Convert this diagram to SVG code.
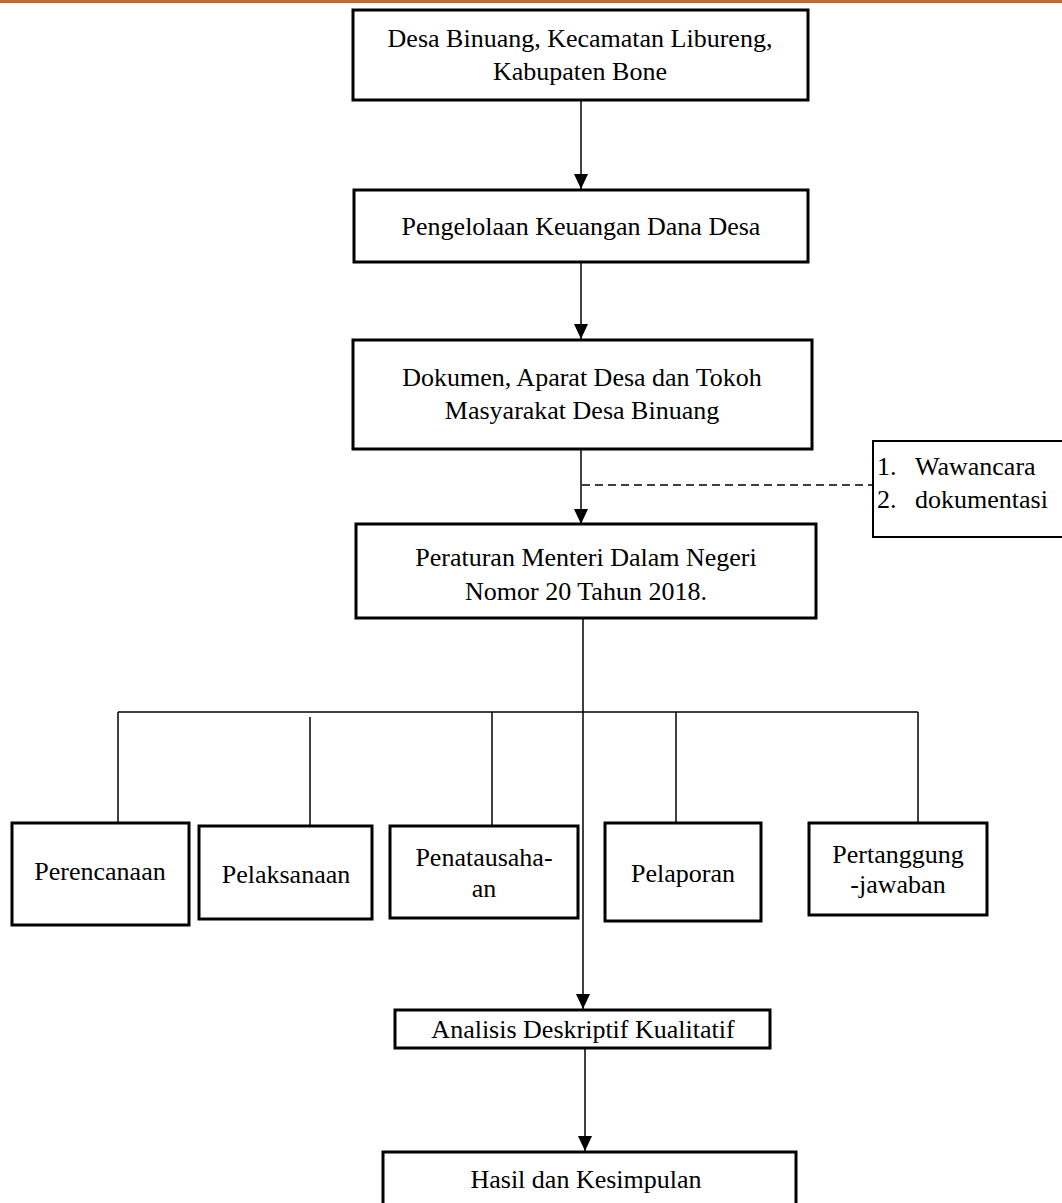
<svg xmlns="http://www.w3.org/2000/svg" width="1062" height="1203" viewBox="0 0 1062 1203">
<style>
.box{fill:#fff;stroke:#000;stroke-width:3}
.sbox{fill:#fff;stroke:#000;stroke-width:2}
.ln{fill:none;stroke:#000;stroke-width:1.5}
.dash{fill:none;stroke:#000;stroke-width:1.5;stroke-dasharray:8 5}
text{font-family:"Liberation Serif","Times New Roman",serif;font-size:26px;fill:#000}
.c{text-anchor:middle}
</style>
<defs>
<marker id="ah" markerWidth="16" markerHeight="14" refX="15" refY="7" orient="auto" markerUnits="userSpaceOnUse">
<path d="M0,0 L15,7 L0,14 Z" fill="#000"/>
</marker>
</defs>
<rect x="0" y="0" width="1062" height="1203" fill="#fff"/>
<rect x="0" y="0" width="1062" height="3" fill="#C4662F"/>
<g id="connectors">
<line class="ln" x1="581" y1="100" x2="581" y2="189" marker-end="url(#ah)"/>
<line class="ln" x1="581" y1="262" x2="581" y2="339" marker-end="url(#ah)"/>
<line class="ln" x1="581" y1="449" x2="581" y2="524" marker-end="url(#ah)"/>
<line class="dash" x1="582" y1="485" x2="873" y2="485"/>
<line class="ln" x1="583" y1="618" x2="583" y2="1009" marker-end="url(#ah)"/>
<line class="ln" x1="118" y1="712" x2="918" y2="712"/>
<line class="ln" x1="118" y1="712" x2="118" y2="823"/>
<line class="ln" x1="310" y1="717" x2="310" y2="826"/>
<line class="ln" x1="492" y1="712" x2="492" y2="826"/>
<line class="ln" x1="676" y1="712" x2="676" y2="823"/>
<line class="ln" x1="918" y1="712" x2="918" y2="823"/>
<line class="ln" x1="585" y1="1048" x2="585" y2="1151" marker-end="url(#ah)"/>
</g>
<g id="n1"><rect class="box" x="353" y="10" width="455" height="90"/>
<text class="c" x="580" y="47">Desa Binuang, Kecamatan Libureng,</text>
<text class="c" x="580" y="80">Kabupaten Bone</text></g>
<g id="n2"><rect class="box" x="354" y="190" width="454" height="72"/>
<text class="c" x="581" y="235">Pengelolaan Keuangan Dana Desa</text></g>
<g id="n3"><rect class="box" x="353" y="340" width="459" height="109"/>
<text class="c" x="582" y="386">Dokumen, Aparat Desa dan Tokoh</text>
<text class="c" x="582" y="419">Masyarakat Desa Binuang</text></g>
<g id="n4"><rect class="sbox" x="873" y="441" width="195" height="96"/>
<text x="877" y="475">1.</text><text x="915" y="475">Wawancara</text>
<text x="877" y="508">2.</text><text x="915" y="508">dokumentasi</text></g>
<g id="n5"><rect class="box" x="356" y="524" width="460" height="94"/>
<text class="c" x="586" y="566">Peraturan Menteri Dalam Negeri</text>
<text class="c" x="586" y="600">Nomor 20 Tahun 2018.</text></g>
<g id="n6"><rect class="box" x="12" y="823" width="177" height="102"/>
<text class="c" x="100" y="880">Perencanaan</text></g>
<g id="n7"><rect class="box" x="199" y="826" width="173" height="93"/>
<text class="c" x="286" y="883">Pelaksanaan</text></g>
<g id="n8"><rect class="box" x="390" y="826" width="188" height="92"/>
<text class="c" x="484" y="866">Penatausaha-</text>
<text class="c" x="484" y="897">an</text></g>
<g id="n9"><rect class="box" x="605" y="823" width="156" height="98"/>
<text class="c" x="683" y="882">Pelaporan</text></g>
<g id="n10"><rect class="box" x="809" y="823" width="178" height="92"/>
<text class="c" x="898" y="863">Pertanggung</text>
<text class="c" x="898" y="893">-jawaban</text></g>
<g id="n11"><rect class="box" x="395" y="1010" width="375" height="38"/>
<text class="c" x="583" y="1038">Analisis Deskriptif Kualitatif</text></g>
<g id="n12"><rect class="box" x="383" y="1152" width="413" height="60"/>
<text class="c" x="586" y="1188">Hasil dan Kesimpulan</text></g>
</svg>
